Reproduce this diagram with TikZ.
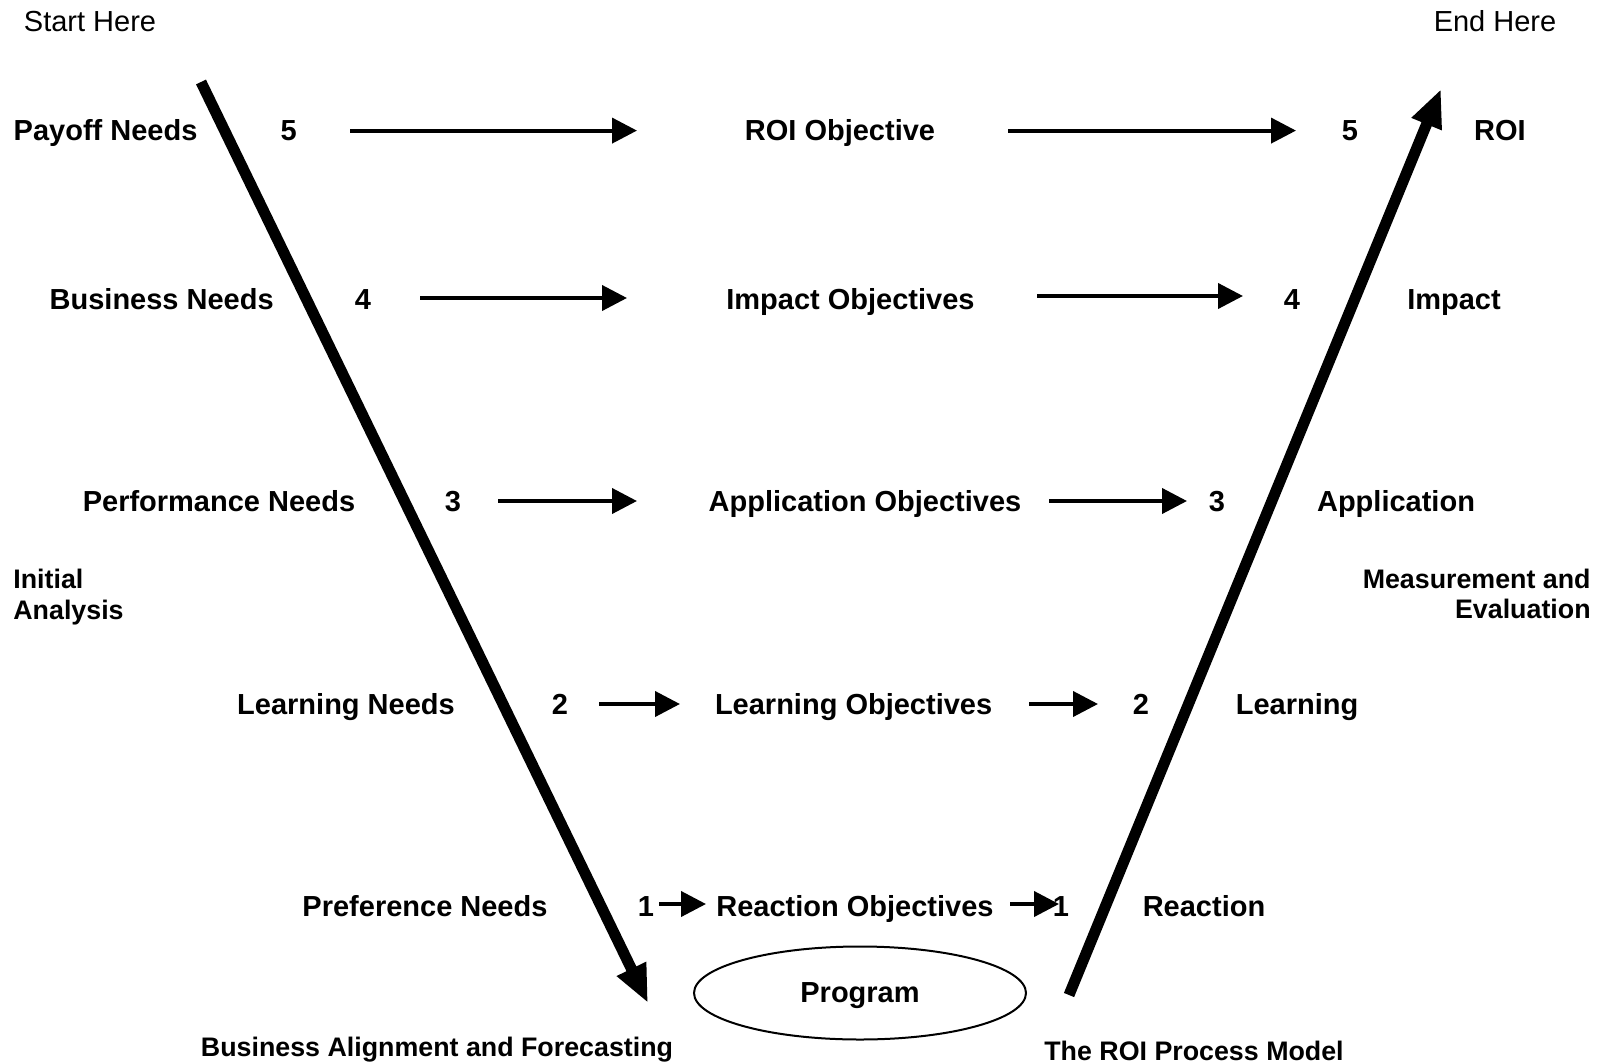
\documentclass[tikz,border=0pt]{standalone}
\usepackage{fontspec}
\setmainfont{Liberation Sans}
\usetikzlibrary{arrows.meta,shapes.geometric}
\tikzstyle{Label}=[font=\fontsize{14.5}{17}\selectfont\bfseries, anchor=base, inner sep=0]
\tikzstyle{Corner}=[font=\fontsize{14.5}{17}\selectfont, anchor=base, inner sep=0]
\tikzstyle{Note}=[font=\fontsize{13.4}{15.3}\selectfont\bfseries, inner sep=0]
\tikzstyle{Flow}=[line width=2pt, -{Triangle[length=12.5pt,width=12.5pt]}]
\tikzstyle{Phase}=[line width=5.5pt, -{Triangle[length=19pt,width=15pt]}]

\begin{document}
\begin{tikzpicture}[x=0.5pt, y=-0.5pt]
    \useasboundingbox (0,0) rectangle (1599,1064);

    \path
    (90,31.7) node[Corner] (start) {Start Here}
    (1495,31.7) node[Corner] (end) {End Here}
    (13,597) node[Note, align=left, anchor=west] (initial) {Initial\\Analysis}
    (1591,594) node[Note, align=right, anchor=east] (measure) {Measurement and\\Evaluation}
    (437,1056) node[Note, anchor=base] (align) {Business Alignment and Forecasting}
    (1194,1060) node[Note, anchor=base] (model) {The ROI Process Model}
    (860,993) node[ellipse, draw=black, line width=1pt, minimum width=166pt, minimum height=46.5pt, inner sep=0,
        text depth=0pt, font=\fontsize{14.5}{17}\selectfont\bfseries] (program) {Program};

    % level 5
    \path
    (13.3,141) node[Label, anchor=base west] (need5) {Payoff Needs}
    (288.8,141) node[Label] (lnum5) {5}
    (840,141) node[Label] (obj5) {ROI Objective}
    (1350,141) node[Label] (rnum5) {5}
    (1500,141) node[Label] (res5) {ROI};
    % level 4
    \path
    (161.7,309) node[Label] (need4) {Business Needs}
    (363,309) node[Label] (lnum4) {4}
    (850.5,309) node[Label] (obj4) {Impact Objectives}
    (1292,309) node[Label] (rnum4) {4}
    (1454,309) node[Label] (res4) {Impact};
    % level 3
    \path
    (219,511) node[Label] (need3) {Performance Needs}
    (453,511) node[Label] (lnum3) {3}
    (865,511) node[Label] (obj3) {Application Objectives}
    (1217,511) node[Label] (rnum3) {3}
    (1396,511) node[Label] (res3) {Application};
    % level 2
    \path
    (346,714) node[Label] (need2) {Learning Needs}
    (560,714) node[Label] (lnum2) {2}
    (853.6,714) node[Label] (obj2) {Learning Objectives}
    (1141,714) node[Label] (rnum2) {2}
    (1297,714) node[Label] (res2) {Learning};
    % level 1
    \path
    (425,916) node[Label] (need1) {Preference Needs}
    (646,916) node[Label] (lnum1) {1}
    (855,916) node[Label] (obj1) {Reaction Objectives}
    (1061,916) node[Label] (rnum1) {1}
    (1204,916) node[Label] (res1) {Reaction};

    % arrow ends
    \coordinate (in5a) at (350,130.6);  \coordinate (in5b) at (637,130.6);
    \coordinate (out5a) at (1008,130.6); \coordinate (out5b) at (1296,130.6);
    \coordinate (in4a) at (420,298);    \coordinate (in4b) at (627,298);
    \coordinate (out4a) at (1037,296);  \coordinate (out4b) at (1243,296);
    \coordinate (in3a) at (498,501);    \coordinate (in3b) at (637,501);
    \coordinate (out3a) at (1049,501);  \coordinate (out3b) at (1187,501);
    \coordinate (in2a) at (599,704);    \coordinate (in2b) at (680,704);
    \coordinate (out2a) at (1029,704);  \coordinate (out2b) at (1098,704);
    \coordinate (in1a) at (659,904);    \coordinate (in1b) at (706,904);
    \coordinate (out1a) at (1010,904);  \coordinate (out1b) at (1059,904);
    \coordinate (downtop) at (201,82);  \coordinate (downend) at (648,1003);
    \coordinate (upstart) at (1069,995); \coordinate (uptop) at (1441,89);

    \draw[Flow] (in5a) -- (in5b);
    \draw[Flow] (out5a) -- (out5b);
    \draw[Flow] (in4a) -- (in4b);
    \draw[Flow] (out4a) -- (out4b);
    \draw[Flow] (in3a) -- (in3b);
    \draw[Flow] (out3a) -- (out3b);
    \draw[Flow] (in2a) -- (in2b);
    \draw[Flow] (out2a) -- (out2b);
    \draw[Flow] (in1a) -- (in1b);
    \draw[Flow] (out1a) -- (out1b);

    \draw[Phase] (downtop) -- (downend);
    \draw[Phase] (upstart) -- (uptop);
\end{tikzpicture}
\end{document}
